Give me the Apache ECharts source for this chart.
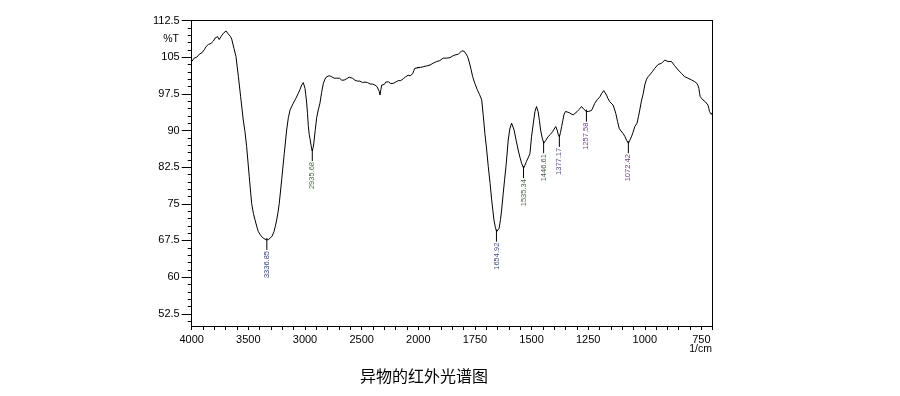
<!DOCTYPE html>
<html>
<head>
<meta charset="utf-8">
<script src="https://cdn.jsdelivr.net/npm/echarts/dist/echarts.min.js"></script>
<style>
html,body{margin:0;padding:0;background:#fff;}
#chart{width:900px;height:396px;}
</style>
</head>
<body>
<div id="chart"></div>
<script>
// ---- Data (wavenumber in 1/cm, transmittance in %T) ----
const wavenumber = [
4000,3992,3985,3978,3971,3963,3955,3948,3940,3933,3927,3918,3910,3902,3895,3889,3883,3875,3868,3860,3853,3845,3838,3830,3823,3815,3808,3800,3794,3787,3780,3772,3765,3757,3750,3742,3735,3727,3720,3712,3705,3697,3690,3685,3676,3668,3657,3647,3627,3609,3588,3568,3545,3530,3515,3492,3471,3455,3441,3425,3412,3390,3368,3338,3320,3303,3290,3274,3262,3250,3238,3227,3206,3183,3162,3147,3132,3103,3080,3059,3044,3029,3015,3008,3000,2993,2985,2978,2971,2963,2956,2945,2936,2928,2921,2910,2897,2883,2868,2853,2838,2824,2809,2794,2786,2779,2772,2765,2757,2750,2742,2735,2727,2720,2712,2705,2697,2690,2683,2676,2669,2662,2655,2648,2640,2632,2625,2617,2610,2603,2596,2590,2582,2574,2567,2560,2552,2545,2537,2530,2522,2515,2507,2500,2492,2485,2477,2470,2463,2456,2448,2440,2433,2425,2418,2410,2403,2397,2390,2383,2376,2370,2365,2360,2353,2345,2338,2330,2323,2316,2309,2301,2294,2287,2280,2272,2265,2257,2250,2243,2235,2228,2221,2213,2206,2199,2192,2184,2177,2170,2162,2155,2147,2140,2132,2125,2118,2110,2103,2096,2090,2085,2080,2076,2072,2067,2062,2056,2050,2045,2040,2036,2032,2026,2020,2015,2010,2005,2000,
1995,1990,1984,1978,1970,1963,1955,1948,1940,1933,1926,1919,1912,1905,1897,1890,1882,1875,1868,1860,1855,1850,1844,1838,1830,1823,1815,1808,1803,1797,1790,1783,1775,1767,1760,1750,1740,1730,1720,1713,1706,1698,1691,1683,1676,1666,1660,1654,1648,1643,1637,1632,1625,1619,1613,1608,1603,1596,1588,1583,1577,1568,1559,1551,1544,1535,1529,1523,1515,1507,1500,1492,1485,1478,1471,1465,1460,1453,1446,1437,1427,1417,1407,1400,1393,1387,1382,1377,1372,1367,1362,1357,1350,1343,1334,1325,1316,1308,1299,1290,1279,1269,1262,1257,1248,1235,1228,1221,1210,1198,1190,1181,1175,1169,1162,1155,1148,1140,1134,1128,1120,1113,1105,1096,1088,1081,1072,1066,1059,1052,1044,1038,1034,1028,1022,1015,1007,1000,992,985,977,967,956,948,941,933,926,919,912,905,897,890,882,875,868,860,853,845,838,831,824,816,809,801,794,787,780,775,770,765,761,758,755,749,743,737,731,726,721,717,714,710,706,703,700
];
const transmittance = [
104.1,104.5,104.3,104.8,104.9,104.7,105.0,105.3,105.2,105.6,105.5,105.8,105.9,106.3,106.2,106.5,106.5,107.1,107.2,107.4,107.6,107.5,107.7,107.8,108.0,108.1,108.3,108.6,108.9,108.7,109.1,109.2,109.4,108.6,108.3,109.2,109.5,109.3,109.9,110.0,110.2,110.35,110.1,110.0,109.7,109.5,109.2,108.7,106.8,105.1,101.0,96.9,92.15,89.8,86.7,80.55,75.1,73.0,71.7,70.3,69.3,68.5,67.95,67.6,67.7,67.95,68.4,69.3,70.4,71.7,73.3,75.1,79.9,85.3,90.1,92.6,94.2,95.6,96.6,97.6,98.4,99.3,99.8,99.5,98.6,97.3,95.6,93.5,91.0,89.2,88.3,86.8,85.8,86.5,87.6,90.0,92.6,94.2,95.6,97.8,99.65,100.5,101.0,101.35,101.2,101.4,101.1,101.0,100.8,100.9,100.7,100.6,100.8,100.7,100.4,100.5,100.7,100.6,100.4,100.3,100.6,100.5,100.3,100.4,100.7,100.6,100.4,100.5,100.9,100.8,100.5,100.5,100.7,100.6,100.4,100.3,100.5,100.4,100.1,100.2,100.3,100.1,99.9,100.0,99.8,99.8,100.0,99.9,99.6,99.65,99.8,99.7,99.5,99.5,99.8,99.7,99.5,99.65,99.4,99.3,99.5,99.4,99.0,98.9,98.6,98.0,97.25,98.4,99.3,99.6,99.5,99.4,99.65,99.9,99.8,99.7,99.98,99.8,99.7,99.6,99.9,99.8,99.65,99.9,99.8,99.9,100.1,100.3,100.2,100.4,100.0,100.2,100.3,100.5,100.6,100.5,100.8,101.0,101.0,100.8,101.3,101.1,101.7,101.4,101.2,101.1,101.0,101.3,101.6,101.9,102.2,102.5,102.7,102.6,102.5,102.7,102.8,102.7,102.9,
102.8,102.9,103.1,103.05,103.0,103.2,103.3,103.4,103.5,103.8,103.9,104.1,104.0,104.3,104.5,104.8,104.6,104.8,104.9,104.9,105.1,105.2,105.3,105.45,105.5,105.6,105.9,106.3,106.7,106.2,106.0,105.2,104.0,102.5,101.0,99.6,98.4,97.4,96.25,93.0,89.4,86.0,82.6,79.2,75.8,71.7,70.2,69.3,69.4,70.0,71.8,73.75,77.15,79.9,82.6,85.2,88.05,90.3,91.5,91.2,90.1,88.0,86.0,84.5,83.3,82.3,82.9,83.6,84.4,85.3,88.7,91.5,93.85,94.9,93.85,92.0,90.1,88.5,87.4,88.0,88.7,89.2,89.75,90.3,90.8,90.1,89.2,88.7,89.6,90.8,92.0,93.2,93.9,94.2,93.65,93.4,93.2,93.5,93.85,94.3,94.9,94.35,94.0,93.85,93.9,94.1,94.8,95.55,96.3,96.9,97.6,98.15,97.8,97.25,96.5,95.9,95.5,95.2,94.4,93.5,91.8,90.45,89.9,89.4,88.8,88.05,87.4,88.0,88.7,89.6,90.8,91.2,91.5,92.8,94.2,96.0,97.5,99.3,100.5,101.0,101.35,102.0,102.7,103.1,103.5,103.6,103.75,104.1,104.4,104.2,104.1,104.2,104.1,103.7,103.25,102.9,102.4,102.1,101.7,101.4,101.0,100.9,100.7,100.5,100.35,100.2,100.0,99.8,99.65,99.2,98.6,97.6,96.9,96.5,96.25,96.0,95.8,95.6,95.2,94.5,93.85,93.5,93.3,93.6,93.4
];

// Peak annotations
const peakWavenumbers = [3336.85, 2935.68, 1654.92, 1535.34, 1446.61, 1377.17, 1257.58, 1072.42];
const peakTransmittance = [67.6, 85.8, 69.3, 82.3, 87.4, 88.7, 93.85, 87.4];
const peakLabels = ['3336.85', '2935.68', '1654.92', '1535.34', '1446.61', '1377.17', '1257.58', '1072.42'];

// Tick labels
const yTickLabels = [52.5, 60, 67.5, 75, 82.5, 90, 97.5, 105, 112.5];
const xTickLabelsHigh = [4000, 3500, 3000, 2500];
const xTickLabelsLow = [2000, 1750, 1500, 1250, 1000, 750];

// ---- Styles ----
const peakColors = ['#34427e', '#4c6a45', '#45508a', '#4d6a4a', '#3f5a3f', '#55488a', '#6f4686', '#663c7c'];
const FONT = 'Liberation Sans, Arial, sans-serif';

const spectrum = wavenumber.map((w, i) => [w, transmittance[i]]);
const peaks = peakWavenumbers.map((w, i) => [w, peakTransmittance[i], i]);

const yMinor = [];
for (let i = 1; 49.5 + 1.5 * i <= 112.5; i++) yMinor.push(49.5 + 1.5 * i);
const xTicksHigh = [];
for (let v = 2100; v <= 4000; v += 100) xTicksHigh.push(v);
const xTicksLow = [];
for (let v = 700; v <= 2000; v += 50) xTicksLow.push(v);

const black = '#000';
const G_TOP = 20.5, G_H = 305.5;
const plain = v => String(v);

function renderPeak(params, api) {
  const idx = api.value(2);
  const p = api.coord([api.value(0), api.value(1)]);
  return {
    type: 'group',
    children: [
      { type: 'line', shape: { x1: p[0], y1: p[1] - 2, x2: p[0], y2: p[1] + 10 },
        style: { stroke: black, lineWidth: 1 } },
      { type: 'text', x: p[0], y: p[1] + 11, rotation: Math.PI / 2,
        style: { text: peakLabels[idx], fill: peakColors[idx], fontSize: 7.5, fontFamily: FONT,
                 align: 'right', verticalAlign: 'middle' } }
    ]
  };
}

const chart = echarts.init(document.getElementById('chart'), null, { renderer: 'canvas' });
chart.setOption({
  animation: false,
  backgroundColor: '#fff',
  grid: [
    { left: 191.7, top: G_TOP, width: 226.6, height: G_H, containLabel: false },
    { left: 418.3, top: G_TOP, width: 294.4, height: G_H, containLabel: false }
  ],
  xAxis: [
    { type: 'value', gridIndex: 0, min: 2000, max: 4000, inverse: true, position: 'bottom', interval: 100,
      axisLine: { show: true, onZero: false, lineStyle: { color: black, width: 1 } },
      axisTick: { show: true, length: 4, lineStyle: { color: black }, customValues: xTicksHigh },
      axisLabel: { customValues: xTickLabelsHigh, formatter: plain, color: black, fontSize: 11, margin: 8, fontFamily: FONT, showMaxLabel: true, showMinLabel: true },
      splitLine: { show: false } },
    { type: 'value', gridIndex: 1, min: 700, max: 2000, inverse: true, position: 'bottom', interval: 50,
      axisLine: { show: true, onZero: false, lineStyle: { color: black, width: 1 } },
      axisTick: { show: true, length: 4, lineStyle: { color: black }, customValues: xTicksLow },
      axisLabel: { customValues: xTickLabelsLow, formatter: plain, color: black, fontSize: 11, margin: 8, fontFamily: FONT, showMaxLabel: true, showMinLabel: true },
      splitLine: { show: false } },
    { type: 'value', gridIndex: 0, min: 2000, max: 4000, inverse: true, position: 'top',
      axisLine: { show: true, onZero: false, lineStyle: { color: black, width: 1 } },
      axisTick: { show: false }, axisLabel: { show: false }, splitLine: { show: false } },
    { type: 'value', gridIndex: 1, min: 700, max: 2000, inverse: true, position: 'top',
      axisLine: { show: true, onZero: false, lineStyle: { color: black, width: 1 } },
      axisTick: { show: false }, axisLabel: { show: false }, splitLine: { show: false } }
  ],
  yAxis: [
    { type: 'value', gridIndex: 0, min: 50, max: 112.5, position: 'left',
      axisLine: { show: true, onZero: false, lineStyle: { color: black, width: 1 } },
      axisTick: { show: true, length: 10, lineStyle: { color: black }, customValues: yTickLabels },
      axisLabel: { customValues: yTickLabels, formatter: plain, color: black, fontSize: 11, margin: 12, fontFamily: FONT, showMaxLabel: true },
      splitLine: { show: false } },
    { type: 'value', gridIndex: 0, min: 50, max: 112.5, position: 'left',
      axisLine: { show: false },
      axisTick: { show: true, length: 4, lineStyle: { color: black }, customValues: yMinor },
      axisLabel: { show: false }, splitLine: { show: false } },
    { type: 'value', gridIndex: 1, min: 50, max: 112.5, position: 'right',
      axisLine: { show: true, onZero: false, lineStyle: { color: black, width: 1 } },
      axisTick: { show: false }, axisLabel: { show: false }, splitLine: { show: false } }
  ],
  series: [
    { type: 'line', xAxisIndex: 0, yAxisIndex: 0, data: spectrum, symbol: 'none', showSymbol: false,
      lineStyle: { color: black, width: 1 }, clip: true, silent: true },
    { type: 'line', xAxisIndex: 1, yAxisIndex: 2, data: spectrum, symbol: 'none', showSymbol: false,
      lineStyle: { color: black, width: 1 }, clip: true, silent: true },
    { type: 'custom', xAxisIndex: 0, yAxisIndex: 0, data: peaks.filter(p => p[0] > 2000), renderItem: renderPeak, silent: true },
    { type: 'custom', xAxisIndex: 1, yAxisIndex: 2, data: peaks.filter(p => p[0] <= 2000), renderItem: renderPeak, silent: true }
  ],
  graphic: [
    { type: 'text', x: 179, y: 39.5,
      style: { text: '%T', fontSize: 10.5, fontFamily: FONT, fill: black, align: 'right', verticalAlign: 'middle' } },
    { type: 'text', x: 712, y: 349,
      style: { text: '1/cm', fontSize: 10.5, fontFamily: FONT, fill: black, align: 'right', verticalAlign: 'middle' } },
    { type: 'text', x: 424, y: 376,
      style: { text: '异物的红外光谱图', fontSize: 16, fontFamily: 'Noto Sans CJK SC', fill: black, align: 'center', verticalAlign: 'middle' } }
  ]
});
</script>
</body>
</html>
